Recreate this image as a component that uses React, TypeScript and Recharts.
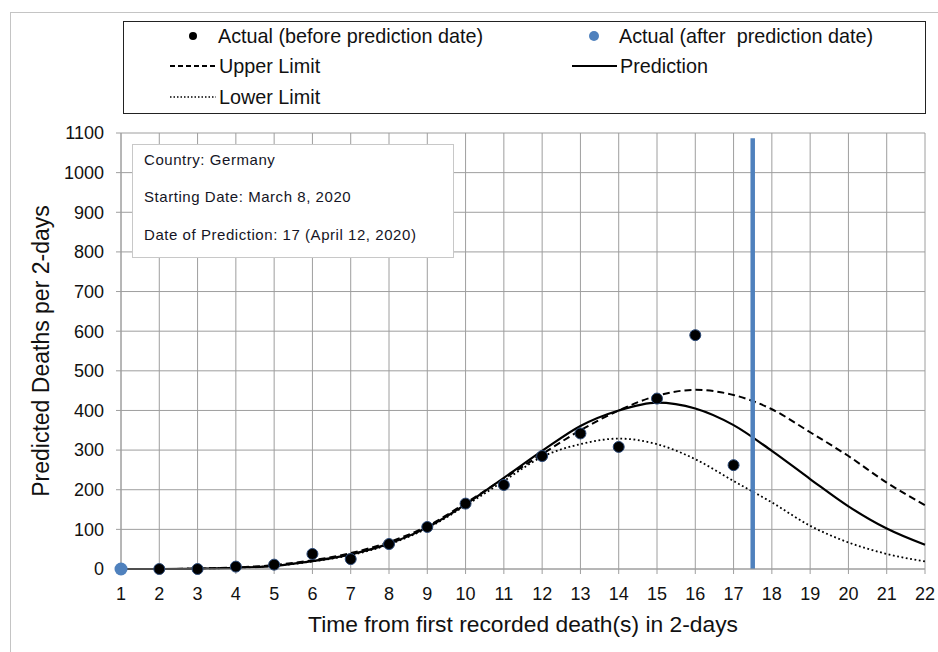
import React from 'react';
import {
  ComposedChart,
  Line,
  Scatter,
  XAxis,
  YAxis,
  CartesianGrid,
  ReferenceLine,
  Legend,
  Label,
} from 'recharts';

// time steps (2-day periods)
const periods = [1, 2, 3, 4, 5, 6, 7, 8, 9, 10, 11, 12, 13, 14, 15, 16, 17, 18, 19, 20, 21, 22];
const prediction = [0, 0, 1, 3, 8, 20, 37, 64, 105, 163, 230, 298, 361, 400, 420, 405, 363, 298, 227, 158, 102, 61];
const upperLimit = [0, 0, 1, 4, 10, 22, 40, 68, 108, 166, 228, 290, 350, 400, 437, 452, 439, 403, 345, 285, 218, 161];
const lowerLimit = [0, 0, 1, 3, 8, 19, 35, 62, 103, 160, 222, 283, 315, 329, 315, 277, 222, 168, 109, 67, 38, 19];

const actualBeforeX = [2, 3, 4, 5, 6, 7, 8, 9, 10, 11, 12, 13, 14, 15, 16, 17];
const actualBefore = [0, 0, 6, 11, 38, 25, 63, 106, 165, 212, 285, 342, 308, 430, 590, 262];
const actualAfterX = [1];
const actualAfter = [0];

const yTicks = [0, 100, 200, 300, 400, 500, 600, 700, 800, 900, 1000, 1100];
const predictionDate = 17.5;
const predictionLineTop = 1087;

const FONT = '"Liberation Sans", Arial, sans-serif';
const GRID = '#9e9e9e';

const lineData = periods.map((x, i) => ({
  x,
  prediction: prediction[i],
  upper: upperLimit[i],
  lower: lowerLimit[i],
}));
const beforeData = actualBeforeX.map((x, i) => ({ x, y: actualBefore[i] }));
const afterData = actualAfterX.map((x, i) => ({ x, y: actualAfter[i] }));

const BlackDot = (props: any) => (
  <circle cx={props.cx} cy={props.cy} r={5.5} fill="#000" stroke="#2c4a78" strokeWidth={1} />
);
const BlueDot = (props: any) => (
  <circle cx={props.cx} cy={props.cy} r={6.5} fill="#4f81bd" />
);

// legend drawn as a boxed panel, positions match the original layout
const LegendPanel = () => (
  <svg width={803} height={93} style={{ display: 'block' }}>
    <rect x={0.5} y={0.5} width={802} height={92} fill="#fff" stroke="#222" strokeWidth={1} />
    <g fontFamily={FONT} fontSize={19.8} fill="#111">
      <circle cx={70} cy={15} r={4} fill="#000" />
      <text x={95} y={15} dominantBaseline="central">Actual (before prediction date)</text>
      <circle cx={471} cy={15} r={5} fill="#4f81bd" />
      <text x={496} y={15} dominantBaseline="central" style={{ whiteSpace: 'pre' }}>
        Actual (after  prediction date)
      </text>

      <line x1={47} x2={93} y1={45} y2={45} stroke="#000" strokeWidth={2} strokeDasharray="5 3" />
      <text x={96} y={45} dominantBaseline="central">Upper Limit</text>
      <line x1={449} x2={494} y1={45} y2={45} stroke="#000" strokeWidth={2} />
      <text x={497} y={45} dominantBaseline="central">Prediction</text>

      <line x1={47} x2={93} y1={76} y2={76} stroke="#000" strokeWidth={1.5} strokeDasharray="1.5 2" />
      <text x={96} y={76} dominantBaseline="central">Lower Limit</text>
    </g>
  </svg>
);

const YTitle = (props: any) => {
  const { viewBox } = props;
  const cy = viewBox.y + viewBox.height / 2;
  return (
    <text
      x={41}
      y={cy}
      transform={`rotate(-90 41 ${cy})`}
      textAnchor="middle"
      dominantBaseline="central"
      fontFamily={FONT}
      fontSize={23}
      fill="#111"
    >
      Predicted Deaths per 2-days
    </text>
  );
};

const XTitle = (props: any) => {
  const { viewBox } = props;
  return (
    <text
      x={viewBox.x + viewBox.width / 2}
      y={632}
      textAnchor="middle"
      fontFamily={FONT}
      fontSize={22.8}
      fill="#111"
    >
      Time from first recorded death(s) in 2-days
    </text>
  );
};

export default function App() {
  return (
    <div
      style={{
        position: 'absolute',
        left: 0,
        top: 0,
        width: 938,
        height: 652,
        overflow: 'hidden',
        background: '#fff',
        fontFamily: FONT,
      }}
    >
      {/* outer chart frame */}
      <div
        style={{
          position: 'absolute',
          left: 10,
          top: 12,
          width: 960,
          height: 700,
          border: '1px solid #c4c4c4',
        }}
      />

      <div style={{ position: 'absolute', left: 0, top: 0 }}>
        <ComposedChart
          width={938}
          height={652}
          data={lineData}
          margin={{ top: 133, right: 13, bottom: 13, left: 0 }}
        >
          <CartesianGrid stroke={GRID} strokeWidth={1} />
          <XAxis
            dataKey="x"
            type="number"
            domain={[1, 22]}
            ticks={periods}
            interval={0}
            height={70}
            tickSize={5}
            tickMargin={13}
            axisLine={{ stroke: GRID }}
            tickLine={{ stroke: GRID }}
            tick={{ fontSize: 18, fill: '#111', fontFamily: FONT }}
          >
            <Label content={<XTitle />} />
          </XAxis>
          <YAxis
            type="number"
            domain={[0, 1100]}
            ticks={yTicks}
            interval={0}
            width={121}
            tickSize={5}
            tickMargin={12}
            axisLine={{ stroke: GRID }}
            tickLine={{ stroke: GRID }}
            tick={{ fontSize: 18, fill: '#111', fontFamily: FONT }}
          >
            <Label content={<YTitle />} />
          </YAxis>

          <Legend
            layout="horizontal"
            verticalAlign="middle"
            align="center"
            content={<LegendPanel />}
            wrapperStyle={{ position: 'absolute', left: 123, top: 21, width: 803, height: 93 }}
          />

          <Line
            dataKey="upper"
            type="monotone"
            stroke="#000"
            strokeWidth={2}
            strokeDasharray="7 4"
            dot={false}
            isAnimationActive={false}
          />
          <Line
            dataKey="lower"
            type="monotone"
            stroke="#000"
            strokeWidth={1.8}
            strokeDasharray="1.8 2.6"
            dot={false}
            isAnimationActive={false}
          />
          <Line
            dataKey="prediction"
            type="monotone"
            stroke="#000"
            strokeWidth={2.2}
            dot={false}
            isAnimationActive={false}
          />
          <ReferenceLine
            segment={[
              { x: predictionDate, y: 0 },
              { x: predictionDate, y: predictionLineTop },
            ]}
            stroke="#4f81bd"
            strokeWidth={4.5}
          />
          <Scatter data={beforeData} dataKey="y" shape={<BlackDot />} isAnimationActive={false} />
          <Scatter data={afterData} dataKey="y" shape={<BlueDot />} isAnimationActive={false} />
        </ComposedChart>
      </div>

      {/* info box inside the plot area */}
      <div
        style={{
          position: 'absolute',
          left: 132,
          top: 144,
          width: 320,
          height: 112,
          border: '1px solid #c8c8c8',
          background: '#fff',
          color: '#151525',
          fontSize: 15,
          letterSpacing: 0.55,
        }}
      >
        <div style={{ position: 'absolute', left: 11, top: 6 }}>Country: Germany</div>
        <div style={{ position: 'absolute', left: 11, top: 43 }}>Starting Date: March 8, 2020</div>
        <div style={{ position: 'absolute', left: 11, top: 81 }}>Date of Prediction: 17 (April 12, 2020)</div>
      </div>
    </div>
  );
}
